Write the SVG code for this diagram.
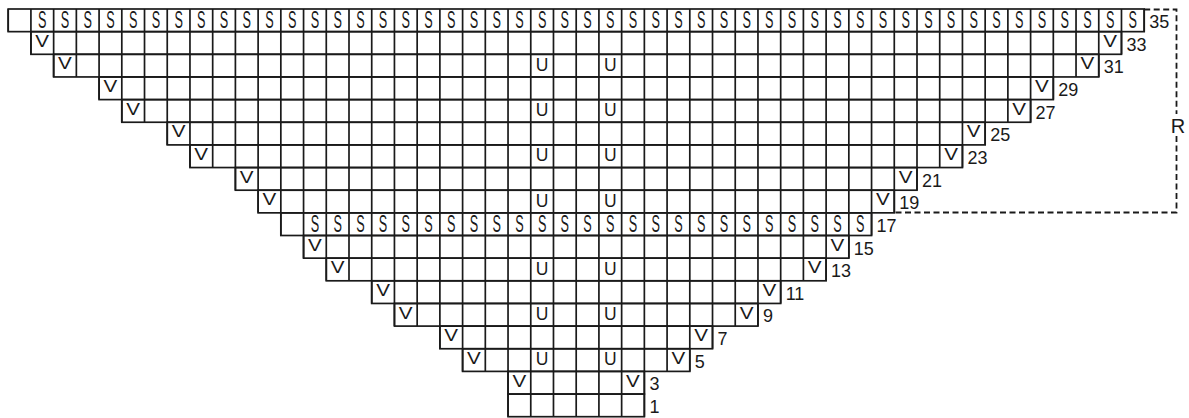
<svg xmlns="http://www.w3.org/2000/svg" width="1189" height="418" viewBox="0 0 1189 418">
<style>
.bg{fill:#fff}
.vl{fill:none;stroke:#1a1a1a;stroke-width:22.65;stroke-dasharray:1.7 21.02}
.row{fill:none;stroke:#1a1a1a;stroke-width:1.7}
.t{font-family:"Liberation Sans",Arial,sans-serif;fill:#1a1a1a;text-anchor:middle}
.s{font-size:23px;transform-box:fill-box;transform-origin:center;transform:scaleX(.55)}
.v{font-size:16.5px;transform-box:fill-box;transform-origin:center;transform:scaleX(1.25)}
.u{font-size:17.5px}
.lb{font-family:"Liberation Sans",Arial,sans-serif;fill:#1a1a1a;font-size:18px}
.rep{fill:none;stroke:#1a1a1a;stroke-width:1.8;stroke-dasharray:6 3.5}
.r{font-family:"Liberation Sans",Arial,sans-serif;fill:#1a1a1a;font-size:20px;text-anchor:middle}
</style>
<rect class="bg" x="0" y="0" width="1189" height="418"/>
<g id="grid">
<line class="vl" x1="7.35" y1="20.325" x2="1145.05" y2="20.325"/>
<line class="vl" x1="30.07" y1="42.975" x2="1122.33" y2="42.975"/>
<line class="vl" x1="52.79" y1="65.625" x2="1099.61" y2="65.625"/>
<line class="vl" x1="98.23" y1="88.275" x2="1054.17" y2="88.275"/>
<line class="vl" x1="120.95" y1="110.925" x2="1031.45" y2="110.925"/>
<line class="vl" x1="166.39" y1="133.575" x2="986.01" y2="133.575"/>
<line class="vl" x1="189.11" y1="156.225" x2="963.29" y2="156.225"/>
<line class="vl" x1="234.55" y1="178.875" x2="917.85" y2="178.875"/>
<line class="vl" x1="257.27" y1="201.525" x2="895.13" y2="201.525"/>
<line class="vl" x1="279.99" y1="224.175" x2="872.41" y2="224.175"/>
<line class="vl" x1="302.71" y1="246.825" x2="849.69" y2="246.825"/>
<line class="vl" x1="325.43" y1="269.475" x2="826.97" y2="269.475"/>
<line class="vl" x1="370.87" y1="292.125" x2="781.53" y2="292.125"/>
<line class="vl" x1="393.59" y1="314.775" x2="758.81" y2="314.775"/>
<line class="vl" x1="439.03" y1="337.425" x2="713.37" y2="337.425"/>
<line class="vl" x1="461.75" y1="360.075" x2="690.65" y2="360.075"/>
<line class="vl" x1="507.19" y1="382.725" x2="645.21" y2="382.725"/>
<line class="vl" x1="507.19" y1="405.375" x2="645.21" y2="405.375"/>
<rect class="row" x="8.2" y="9" width="1136" height="22.65"/>
<rect class="row" x="30.92" y="31.65" width="1090.56" height="22.65"/>
<rect class="row" x="53.64" y="54.3" width="1045.12" height="22.65"/>
<rect class="row" x="99.08" y="76.95" width="954.24" height="22.65"/>
<rect class="row" x="121.8" y="99.6" width="908.8" height="22.65"/>
<rect class="row" x="167.24" y="122.25" width="817.92" height="22.65"/>
<rect class="row" x="189.96" y="144.9" width="772.48" height="22.65"/>
<rect class="row" x="235.4" y="167.55" width="681.6" height="22.65"/>
<rect class="row" x="258.12" y="190.2" width="636.16" height="22.65"/>
<rect class="row" x="280.84" y="212.85" width="590.72" height="22.65"/>
<rect class="row" x="303.56" y="235.5" width="545.28" height="22.65"/>
<rect class="row" x="326.28" y="258.15" width="499.84" height="22.65"/>
<rect class="row" x="371.72" y="280.8" width="408.96" height="22.65"/>
<rect class="row" x="394.44" y="303.45" width="363.52" height="22.65"/>
<rect class="row" x="439.88" y="326.1" width="272.64" height="22.65"/>
<rect class="row" x="462.6" y="348.75" width="227.2" height="22.65"/>
<rect class="row" x="508.04" y="371.4" width="136.32" height="22.65"/>
<rect class="row" x="508.04" y="394.05" width="136.32" height="22.65"/>
</g>
<g id="row35-s">
<text class="t s" x="42.28" y="28.5">S</text><text class="t s" x="65" y="28.5">S</text><text class="t s" x="87.72" y="28.5">S</text><text class="t s" x="110.44" y="28.5">S</text><text class="t s" x="133.16" y="28.5">S</text><text class="t s" x="155.88" y="28.5">S</text><text class="t s" x="178.6" y="28.5">S</text><text class="t s" x="201.32" y="28.5">S</text><text class="t s" x="224.04" y="28.5">S</text><text class="t s" x="246.76" y="28.5">S</text>
<text class="t s" x="269.48" y="28.5">S</text><text class="t s" x="292.2" y="28.5">S</text><text class="t s" x="314.92" y="28.5">S</text><text class="t s" x="337.64" y="28.5">S</text><text class="t s" x="360.36" y="28.5">S</text><text class="t s" x="383.08" y="28.5">S</text><text class="t s" x="405.8" y="28.5">S</text><text class="t s" x="428.52" y="28.5">S</text><text class="t s" x="451.24" y="28.5">S</text><text class="t s" x="473.96" y="28.5">S</text>
<text class="t s" x="496.68" y="28.5">S</text><text class="t s" x="519.4" y="28.5">S</text><text class="t s" x="542.12" y="28.5">S</text><text class="t s" x="564.84" y="28.5">S</text><text class="t s" x="587.56" y="28.5">S</text><text class="t s" x="610.28" y="28.5">S</text><text class="t s" x="633" y="28.5">S</text><text class="t s" x="655.72" y="28.5">S</text><text class="t s" x="678.44" y="28.5">S</text><text class="t s" x="701.16" y="28.5">S</text>
<text class="t s" x="723.88" y="28.5">S</text><text class="t s" x="746.6" y="28.5">S</text><text class="t s" x="769.32" y="28.5">S</text><text class="t s" x="792.04" y="28.5">S</text><text class="t s" x="814.76" y="28.5">S</text><text class="t s" x="837.48" y="28.5">S</text><text class="t s" x="860.2" y="28.5">S</text><text class="t s" x="882.92" y="28.5">S</text><text class="t s" x="905.64" y="28.5">S</text><text class="t s" x="928.36" y="28.5">S</text>
<text class="t s" x="951.08" y="28.5">S</text><text class="t s" x="973.8" y="28.5">S</text><text class="t s" x="996.52" y="28.5">S</text><text class="t s" x="1019.24" y="28.5">S</text><text class="t s" x="1041.96" y="28.5">S</text><text class="t s" x="1064.68" y="28.5">S</text><text class="t s" x="1087.4" y="28.5">S</text><text class="t s" x="1110.12" y="28.5">S</text><text class="t s" x="1132.84" y="28.5">S</text>
</g>
<g id="row17-s">
<text class="t s" x="314.92" y="232.4">S</text><text class="t s" x="337.64" y="232.4">S</text><text class="t s" x="360.36" y="232.4">S</text><text class="t s" x="383.08" y="232.4">S</text><text class="t s" x="405.8" y="232.4">S</text><text class="t s" x="428.52" y="232.4">S</text><text class="t s" x="451.24" y="232.4">S</text><text class="t s" x="473.96" y="232.4">S</text><text class="t s" x="496.68" y="232.4">S</text><text class="t s" x="519.4" y="232.4">S</text>
<text class="t s" x="542.12" y="232.4">S</text><text class="t s" x="564.84" y="232.4">S</text><text class="t s" x="587.56" y="232.4">S</text><text class="t s" x="610.28" y="232.4">S</text><text class="t s" x="633" y="232.4">S</text><text class="t s" x="655.72" y="232.4">S</text><text class="t s" x="678.44" y="232.4">S</text><text class="t s" x="701.16" y="232.4">S</text><text class="t s" x="723.88" y="232.4">S</text><text class="t s" x="746.6" y="232.4">S</text>
<text class="t s" x="769.32" y="232.4">S</text><text class="t s" x="792.04" y="232.4">S</text><text class="t s" x="814.76" y="232.4">S</text><text class="t s" x="837.48" y="232.4">S</text><text class="t s" x="860.2" y="232.4">S</text>
</g>
<g id="v-marks">
<text class="t v" x="42.28" y="46.85">V</text><text class="t v" x="1110.12" y="46.85">V</text>
<text class="t v" x="65" y="69.5">V</text><text class="t v" x="1087.4" y="69.5">V</text>
<text class="t v" x="110.44" y="92.15">V</text><text class="t v" x="1041.96" y="92.15">V</text>
<text class="t v" x="133.16" y="114.8">V</text><text class="t v" x="1019.24" y="114.8">V</text>
<text class="t v" x="178.6" y="137.45">V</text><text class="t v" x="973.8" y="137.45">V</text>
<text class="t v" x="201.32" y="160.1">V</text><text class="t v" x="951.08" y="160.1">V</text>
<text class="t v" x="246.76" y="182.75">V</text><text class="t v" x="905.64" y="182.75">V</text>
<text class="t v" x="269.48" y="205.4">V</text><text class="t v" x="882.92" y="205.4">V</text>
<text class="t v" x="314.92" y="250.7">V</text><text class="t v" x="837.48" y="250.7">V</text>
<text class="t v" x="337.64" y="273.35">V</text><text class="t v" x="814.76" y="273.35">V</text>
<text class="t v" x="383.08" y="296">V</text><text class="t v" x="769.32" y="296">V</text>
<text class="t v" x="405.8" y="318.65">V</text><text class="t v" x="746.6" y="318.65">V</text>
<text class="t v" x="451.24" y="341.3">V</text><text class="t v" x="701.16" y="341.3">V</text>
<text class="t v" x="473.96" y="363.95">V</text><text class="t v" x="678.44" y="363.95">V</text>
<text class="t v" x="519.4" y="386.6">V</text><text class="t v" x="633" y="386.6">V</text>
</g>
<g id="u-marks">
<text class="t u" x="542.12" y="70.8">U</text><text class="t u" x="610.28" y="70.8">U</text>
<text class="t u" x="542.12" y="116.1">U</text><text class="t u" x="610.28" y="116.1">U</text>
<text class="t u" x="542.12" y="161.4">U</text><text class="t u" x="610.28" y="161.4">U</text>
<text class="t u" x="542.12" y="206.7">U</text><text class="t u" x="610.28" y="206.7">U</text>
<text class="t u" x="542.12" y="274.65">U</text><text class="t u" x="610.28" y="274.65">U</text>
<text class="t u" x="542.12" y="319.95">U</text><text class="t u" x="610.28" y="319.95">U</text>
<text class="t u" x="542.12" y="365.25">U</text><text class="t u" x="610.28" y="365.25">U</text>
</g>
<g id="row-numbers">
<text class="lb" x="1149.2" y="28">35</text>
<text class="lb" x="1126.5" y="50.65">33</text>
<text class="lb" x="1103.8" y="73.3">31</text>
<text class="lb" x="1058.3" y="95.95">29</text>
<text class="lb" x="1035.6" y="118.6">27</text>
<text class="lb" x="990.2" y="141.25">25</text>
<text class="lb" x="967.4" y="163.9">23</text>
<text class="lb" x="922" y="186.55">21</text>
<text class="lb" x="899.3" y="209.2">19</text>
<text class="lb" x="876.6" y="231.85">17</text>
<text class="lb" x="853.8" y="254.5">15</text>
<text class="lb" x="831.1" y="277.15">13</text>
<text class="lb" x="785.7" y="299.8">11</text>
<text class="lb" x="763" y="322.45">9</text>
<text class="lb" x="717.5" y="345.1">7</text>
<text class="lb" x="694.8" y="367.75">5</text>
<text class="lb" x="649.4" y="390.4">3</text>
<text class="lb" x="649.4" y="413.05">1</text>
</g>
<g id="repeat">
<path class="rep" d="M1144.2 9.5H1176.5V114M1176.5 136V212.5H894.3"/>
<text class="r" x="1178" y="133">R</text>
</g>
</svg>
